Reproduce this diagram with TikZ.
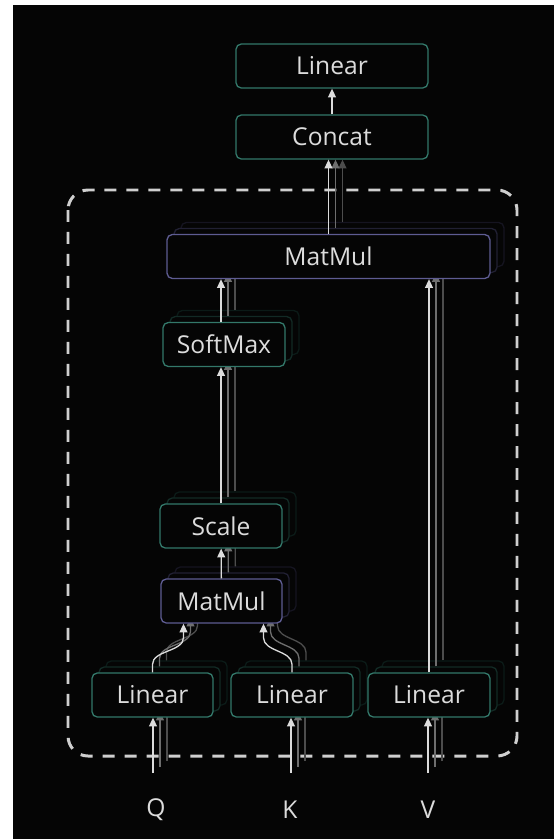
\documentclass[tikz,border=0pt]{standalone}
\usepackage{fontspec}
\setmainfont{Open Sans}
\usepackage{tikz}
\usetikzlibrary{arrows.meta, positioning, calc}
\definecolor{bg}{HTML}{050505}
\definecolor{tealline}{HTML}{33786A}
\definecolor{purpline}{HTML}{5E5C92}
\definecolor{txt}{HTML}{DCDCDC}
\definecolor{dashc}{HTML}{CFCFCF}
\tikzstyle{block} = [rectangle, rounded corners=3pt, minimum height=0.88cm, inner sep=0pt, text centered, fill=bg, line width=0.75pt, text=txt, font=\fontsize{14}{16}\selectfont]
\tikzstyle{label} = [text=txt, font=\fontsize{14}{16}\selectfont]
\tikzstyle{arrow} = [line width=0.75pt, -{Triangle[length=5pt,width=4.5pt]}]
\tikzstyle{dashbox} = [dashc, line width=1.7pt, rounded corners=0.4cm, dash pattern=on 0.24cm off 0.2cm]

\begin{document}
\begin{tikzpicture}[x=0.02cm, y=-0.02cm]
    \useasboundingbox (0,0) rectangle (554,839);
    \fill[white] (0,0) rectangle (554,839);
    \fill[bg] (13,5) rectangle (554,839);

    % head box
    \draw[dashbox] (68,190) rectangle (517,756);

    \node (lin) [block, draw=tealline, minimum width=3.84cm] at (332,66) {Linear};
    \node (concat) [block, draw=tealline, minimum width=3.84cm] at (332,137) {Concat};
    \draw [arrow, txt] (concat) -- (lin);

    % stacked heads, back to front
    \foreach \l/\dx/\dy/\sh/\ash in {2/14/-12/22/35, 1/7/-6/35/50, 0/0/0/100/100} {
        \begin{scope}[shift={(\dx,\dy)}]
            \node (mm\l) [block, draw=purpline!\sh!black, minimum width=6.46cm] at (328.5,256.5) {\ifnum\l=0 MatMul\fi};
            \node (soft\l) [block, draw=tealline!\sh!black, minimum width=2.44cm] at (224,344.5) {\ifnum\l=0 SoftMax\fi};
            \node (scale\l) [block, draw=tealline!\sh!black, minimum width=2.44cm] at (221,526) {\ifnum\l=0 Scale\fi};
            \node (mmb\l) [block, draw=purpline!\sh!black, minimum width=2.42cm] at (221.5,601) {\ifnum\l=0 MatMul\fi};
            \node (linq\l) [block, draw=tealline!\sh!black, minimum width=2.42cm] at (152.5,695) {\ifnum\l=0 Linear\fi};
            \node (link\l) [block, draw=tealline!\sh!black, minimum width=2.44cm] at (292,695) {\ifnum\l=0 Linear\fi};
            \node (linv\l) [block, draw=tealline!\sh!black, minimum width=2.44cm] at (429,695) {\ifnum\l=0 Linear\fi};
            \coordinate (qfoot\l) at (153,773);
            \coordinate (kfoot\l) at (291,773);
            \coordinate (vfoot\l) at (428,773);

            \draw [arrow, txt!\ash!black] (qfoot\l) -- (qfoot\l |- linq\l.south);
            \draw [arrow, txt!\ash!black] (kfoot\l) -- (kfoot\l |- link\l.south);
            \draw [arrow, txt!\ash!black] (vfoot\l) -- (vfoot\l |- linv\l.south);
            \draw [arrow, txt!\ash!black] (linq\l.north) -- ++(0,-8) .. controls +(0,-14) and +(0,14) .. ($(mmb\l.south)+(-38,14)$) -- ($(mmb\l.south)+(-38,0)$);
            \draw [arrow, txt!\ash!black] (link\l.north) -- ++(0,-8) .. controls +(0,-14) and +(0,14) .. ($(mmb\l.south)+(42,14)$) -- ($(mmb\l.south)+(42,0)$);
            \draw [arrow, txt!\ash!black] (mmb\l) -- (scale\l);
            \draw [arrow, txt!\ash!black] (scale\l.north) -- (scale\l.north |- soft\l.south);
            \draw [arrow, txt!\ash!black] (scale\l.north |- soft\l.north) -- (scale\l.north |- mm\l.south);
            \draw [arrow, txt!\ash!black] (linv\l.north) -- (linv\l.north |- mm\l.south);
            \draw [arrow, txt!\ash!black] (mm\l.north) -- (mm\l.north |- concat.south);
        \end{scope}
    }

    \node (q) [label] at (156,810) {Q};
    \node (k) [label] at (290,810) {K};
    \node (v) [label] at (428,810) {V};
\end{tikzpicture}
\end{document}
